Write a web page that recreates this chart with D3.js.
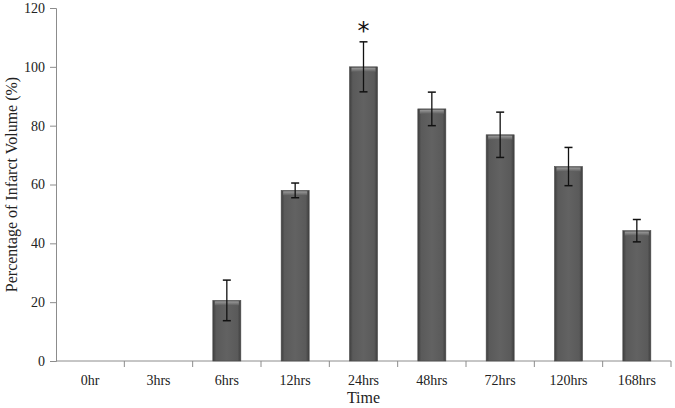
<!DOCTYPE html>
<html>
<head>
<meta charset="utf-8">
<script src="https://cdn.jsdelivr.net/npm/d3@7"></script>
<style>
  body { margin: 0; background: #fff; }
  svg { display: block; font-family: "Liberation Serif", "Times New Roman", serif; }
</style>
</head>
<body>
<svg id="chart"></svg>
<script>
var width = 675;
var height = 408;

// data
var times = ["0hr", "3hrs", "6hrs", "12hrs", "24hrs", "48hrs", "72hrs", "120hrs", "168hrs"];
var volume = [0, 0, 20.6, 58, 100, 85.7, 76.9, 66.1, 44.3];
var errors = [0, 0, 6.9, 2.5, 8.5, 5.7, 7.7, 6.5, 3.8];
var marked = ["24hrs"];
var yTicks = [0, 20, 40, 60, 80, 100, 120];

var margin = { top: 8, right: 4, bottom: 47, left: 56 };

var svg = d3.select("#chart").attr("width", width).attr("height", height);

var x = d3
  .scaleBand()
  .domain(times)
  .range([margin.left, width - margin.right])
  .paddingInner(0.59)
  .paddingOuter(0.295);

var xTickScale = d3
  .scaleBand()
  .domain(times)
  .range([margin.left, width - margin.right]);

var y = d3
  .scaleLinear()
  .domain([0, 120])
  .range([height - margin.bottom, margin.top]);

var defs = svg.append("defs");
var grad = defs
  .append("linearGradient")
  .attr("id", "barGrad")
  .attr("x1", "0").attr("x2", "1").attr("y1", "0").attr("y2", "0");
grad.append("stop").attr("offset", "0%").attr("stop-color", "#3e3e3e");
grad.append("stop").attr("offset", "12%").attr("stop-color", "#5a5a5a");
grad.append("stop").attr("offset", "50%").attr("stop-color", "#626262");
grad.append("stop").attr("offset", "88%").attr("stop-color", "#5a5a5a");
grad.append("stop").attr("offset", "100%").attr("stop-color", "#3e3e3e");

var capGrad = defs
  .append("linearGradient")
  .attr("id", "capGrad")
  .attr("x1", "0").attr("x2", "0").attr("y1", "0").attr("y2", "1");
capGrad.append("stop").attr("offset", "0%").attr("stop-color", "#9a9a9a");
capGrad.append("stop").attr("offset", "100%").attr("stop-color", "#5e5e5e");

// y axis
var yAxis = d3.axisLeft(y).tickValues(yTicks).tickSize(6).tickPadding(5);
var gy = svg
  .append("g")
  .attr("transform", "translate(" + margin.left + ",0)")
  .call(yAxis);
gy.select(".domain").attr("stroke", "#8c8c8c");
gy.selectAll(".tick line").attr("stroke", "#8c8c8c");
gy.selectAll(".tick text")
  .attr("fill", "#222")
  .style("font-size", "14px")
  .style("font-family", "Liberation Serif");

// x axis with ticks between categories
var gx = svg
  .append("g")
  .attr("transform", "translate(0," + y(0) + ")");
gx.append("line")
  .attr("x1", margin.left)
  .attr("x2", width - margin.right)
  .attr("stroke", "#8c8c8c");
gx.selectAll(".xtick")
  .data(times.slice(1).concat(["end"]))
  .enter()
  .append("line")
  .attr("class", "xtick")
  .attr("x1", function (d, i) { return margin.left + (i + 1) * xTickScale.bandwidth(); })
  .attr("x2", function (d, i) { return margin.left + (i + 1) * xTickScale.bandwidth(); })
  .attr("y1", 0)
  .attr("y2", 6)
  .attr("stroke", "#8c8c8c");
gx.selectAll(".xlabel")
  .data(times)
  .enter()
  .append("text")
  .attr("class", "xlabel")
  .attr("x", function (d) { return xTickScale(d) + xTickScale.bandwidth() / 2; })
  .attr("y", 24)
  .attr("text-anchor", "middle")
  .attr("fill", "#222")
  .style("font-size", "14px")
  .text(function (d) { return d; });

// bars
var bars = svg
  .selectAll(".bar")
  .data(times.map(function (t, i) { return { time: t, value: volume[i], err: errors[i] }; }))
  .enter()
  .append("g")
  .attr("class", "bar");

bars
  .filter(function (d) { return d.value > 0; })
  .append("rect")
  .attr("x", function (d) { return x(d.time); })
  .attr("y", function (d) { return y(d.value); })
  .attr("width", x.bandwidth())
  .attr("height", function (d) { return y(0) - y(d.value); })
  .attr("fill", "url(#barGrad)")
  .attr("stroke", "#4a4a4a")
  .attr("stroke-width", 0.6);

bars
  .filter(function (d) { return d.value > 0; })
  .append("rect")
  .attr("x", function (d) { return x(d.time) + 2; })
  .attr("y", function (d) { return y(d.value) + 1; })
  .attr("width", x.bandwidth() - 4)
  .attr("height", 4)
  .attr("fill", "url(#capGrad)");

// error bars
var errG = bars.filter(function (d) { return d.err > 0; });
errG
  .append("line")
  .attr("x1", function (d) { return x(d.time) + x.bandwidth() / 2; })
  .attr("x2", function (d) { return x(d.time) + x.bandwidth() / 2; })
  .attr("y1", function (d) { return y(d.value + d.err); })
  .attr("y2", function (d) { return y(d.value - d.err); })
  .attr("stroke", "#111")
  .attr("stroke-width", 1.3);
[1, -1].forEach(function (s) {
  errG
    .append("line")
    .attr("x1", function (d) { return x(d.time) + x.bandwidth() / 2 - 4; })
    .attr("x2", function (d) { return x(d.time) + x.bandwidth() / 2 + 4; })
    .attr("y1", function (d) { return y(d.value + s * d.err); })
    .attr("y2", function (d) { return y(d.value + s * d.err); })
    .attr("stroke", "#111")
    .attr("stroke-width", 1.5);
});

// significance marker
bars
  .filter(function (d) { return marked.indexOf(d.time) >= 0; })
  .append("text")
  .attr("x", function (d) { return x(d.time) + x.bandwidth() / 2; })
  .attr("y", function (d) { return y(d.value + d.err) - 3; })
  .attr("text-anchor", "middle")
  .attr("fill", "#111")
  .style("font-size", "24px")
  .style("font-family", "DejaVu Sans")
  .text("*");

// axis titles
svg
  .append("text")
  .attr("transform", "translate(17," + (y(60)) + ") rotate(-90)")
  .attr("text-anchor", "middle")
  .attr("fill", "#222")
  .style("font-size", "16px")
  .text("Percentage of Infarct Volume (%)");

svg
  .append("text")
  .attr("x", (margin.left + width - margin.right) / 2)
  .attr("y", 403)
  .attr("text-anchor", "middle")
  .attr("fill", "#222")
  .style("font-size", "16px")
  .text("Time");
</script>
</body>
</html>
